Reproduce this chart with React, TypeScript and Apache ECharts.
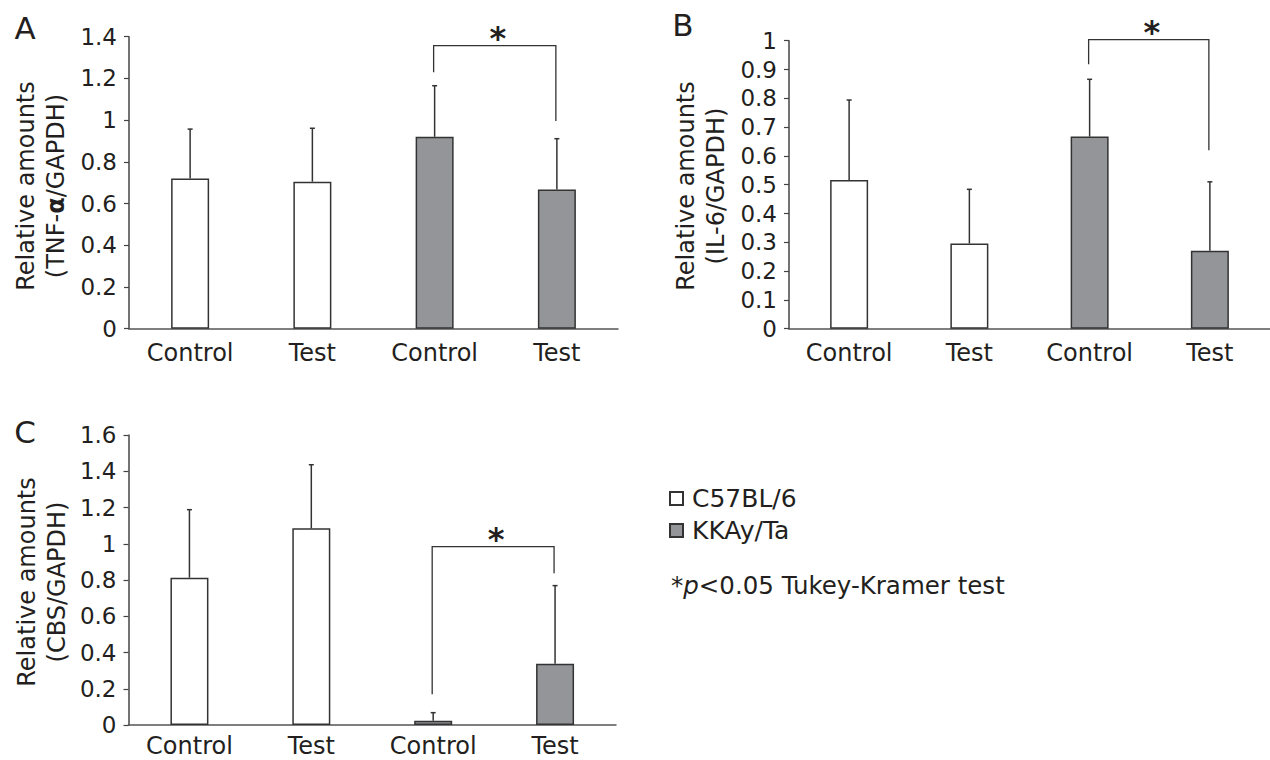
import React, { useEffect, useRef } from "react";
import * as echarts from "echarts";

const categories = ["Control", "Test", "Control", "Test"];
const groupNames = ["C57BL/6", "KKAy/Ta"];
const groupOfBar = [0, 0, 1, 1];

const tnfMeans = [0.72, 0.705, 0.92, 0.667];
const tnfSD = [0.237, 0.256, 0.245, 0.244];
const il6Means = [0.516, 0.296, 0.667, 0.271];
const il6SD = [0.278, 0.188, 0.199, 0.239];
const cbsMeans = [0.813, 1.085, 0.024, 0.338];
const cbsSD = [0.375, 0.351, 0.044, 0.431];

const tnfAxis = { max: 1.4, interval: 0.2 };
const il6Axis = { max: 1, interval: 0.1 };
const cbsAxis = { max: 1.6, interval: 0.2 };

// [fromCategory, toCategory, bracketTop, leftLegEnd, rightLegEnd]
const tnfBracket = [2, 3, 1.357, 1.229, 0.996];
const il6Bracket = [2, 3, 1.004, 0.918, 0.62];
const cbsBracket = [2, 3, 0.984, 0.169, 0.837];

const FONT = "DejaVu Sans";
const DARK = "#231f20";
const GRAY_FILL = "#939598";

const panels = [
  {
    letter: "A",
    means: tnfMeans,
    sd: tnfSD,
    axis: tnfAxis,
    bracket: tnfBracket,
    grid: { left: 129, top: 36.7, width: 489, height: 292 },
    title: "Relative amounts\n(TNF-{b|α}/GAPDH)",
    titlePos: [41, 186],
    letterPos: [25, 28],
    labelMargin: 12,
  },
  {
    letter: "B",
    means: il6Means,
    sd: il6SD,
    axis: il6Axis,
    bracket: il6Bracket,
    grid: { left: 789, top: 40.7, width: 488, height: 288 },
    title: "Relative amounts\n(IL-6/GAPDH)",
    titlePos: [701, 186],
    letterPos: [683, 25],
    labelMargin: 12,
  },
  {
    letter: "C",
    means: cbsMeans,
    sd: cbsSD,
    axis: cbsAxis,
    bracket: cbsBracket,
    grid: { left: 128.5, top: 435, width: 487.5, height: 290 },
    title: "Relative amounts\n(CBS/GAPDH)",
    titlePos: [42, 582],
    letterPos: [25, 432],
    labelMargin: 9,
  },
];

export default function App() {
  const ref = useRef<HTMLDivElement>(null);

  useEffect(() => {
    if (!ref.current) return;
    const chart = echarts.init(ref.current, undefined, { renderer: "svg" });

    const grids: any[] = [];
    const xAxes: any[] = [];
    const yAxes: any[] = [];
    const series: any[] = [];
    const graphics: any[] = [];

    panels.forEach((p, i) => {
      grids.push({ ...p.grid, containLabel: false });
      xAxes.push({
        gridIndex: i,
        type: "category",
        data: categories,
        axisLine: { show: true, lineStyle: { color: "#555", width: 1.5 } },
        axisTick: { show: false },
        axisLabel: {
          interval: 0,
          color: DARK,
          fontSize: 24,
          lineHeight: 24,
          fontFamily: FONT,
          margin: p.labelMargin,
        },
        splitLine: { show: false },
      });
      yAxes.push({
        gridIndex: i,
        type: "value",
        min: 0,
        max: p.axis.max,
        interval: p.axis.interval,
        axisLine: { show: true, lineStyle: { color: "#444", width: 1.5 } },
        axisTick: { show: true, length: 5, lineStyle: { color: "#444", width: 1.2 } },
        axisLabel: { color: DARK, fontSize: 23, fontFamily: FONT, margin: 12 },
        splitLine: { show: false },
      });

      groupNames.forEach((name, g) => {
        series.push({
          type: "bar",
          name,
          xAxisIndex: i,
          yAxisIndex: i,
          barWidth: 38,
          barGap: "-100%",
          data: p.means.map((v, k) => (groupOfBar[k] === g ? v : "-")),
          itemStyle: {
            color: g === 0 ? "#ffffff" : GRAY_FILL,
            borderColor: "#333",
            borderWidth: 1.5,
          },
          z: 2,
          silent: true,
        });
      });

      series.push({
        type: "custom",
        xAxisIndex: i,
        yAxisIndex: i,
        silent: true,
        clip: false,
        z: 3,
        encode: { x: 0, y: [1, 2] },
        data: p.means.map((m, k) => [k, m, m + p.sd[k]]),
        renderItem: (params: any, api: any) => {
          const p0 = api.coord([api.value(0), api.value(1)]);
          const p1 = api.coord([api.value(0), api.value(2)]);
          return {
            type: "group",
            children: [
              {
                type: "line",
                shape: { x1: p0[0], y1: p0[1], x2: p1[0], y2: p1[1] },
                style: { stroke: "#333", lineWidth: 1.5 },
              },
              {
                type: "line",
                shape: { x1: p1[0] - 2.5, y1: p1[1], x2: p1[0] + 2.5, y2: p1[1] },
                style: { stroke: "#333", lineWidth: 1.5 },
              },
            ],
          };
        },
      });

      series.push({
        type: "custom",
        xAxisIndex: i,
        yAxisIndex: i,
        silent: true,
        clip: false,
        z: 3,
        encode: { x: [0, 1], y: [2, 3, 4] },
        data: [p.bracket],
        renderItem: (params: any, api: any) => {
          const a = api.value(0);
          const b = api.value(1);
          const top = api.value(2);
          const lTop = api.coord([a, top]);
          const rTop = api.coord([b, top]);
          const lEnd = api.coord([a, api.value(3)]);
          const rEnd = api.coord([b, api.value(4)]);
          return {
            type: "group",
            children: [
              {
                type: "polyline",
                shape: {
                  points: [
                    [lEnd[0] - 1, lEnd[1]],
                    [lTop[0] - 1, lTop[1]],
                    [rTop[0] - 1, rTop[1]],
                    [rEnd[0] - 1, rEnd[1]],
                  ],
                },
                style: { stroke: "#333", lineWidth: 1.3, fill: null },
              },
              {
                type: "text",
                x: (lTop[0] + rTop[0]) / 2 + 2,
                y: lTop[1] - 8,
                style: {
                  text: "*",
                  fill: DARK,
                  font: `bold 32px '${FONT}'`,
                  textAlign: "center",
                  textVerticalAlign: "middle",
                },
              },
            ],
          };
        },
      });

      graphics.push({
        type: "text",
        x: p.titlePos[0],
        y: p.titlePos[1],
        rotation: Math.PI / 2,
        silent: true,
        style: {
          text: p.title,
          fill: DARK,
          font: `24px '${FONT}'`,
          lineHeight: 30,
          textAlign: "center",
          textVerticalAlign: "middle",
          rich: {
            b: { fontWeight: "bold", fontSize: 24, fontFamily: FONT, lineHeight: 30, fill: DARK },
          },
        },
      });
      graphics.push({
        type: "text",
        x: p.letterPos[0],
        y: p.letterPos[1],
        silent: true,
        style: {
          text: p.letter,
          fill: DARK,
          font: `31px '${FONT}'`,
          textAlign: "center",
          textVerticalAlign: "middle",
        },
      });
    });

    graphics.push({
      type: "text",
      x: 671,
      y: 585,
      silent: true,
      style: {
        text: "*{i|p}<0.05 Tukey-Kramer test",
        fill: DARK,
        font: `24.5px '${FONT}'`,
        textAlign: "left",
        textVerticalAlign: "middle",
        rich: {
          i: { fontStyle: "italic", fontSize: 24.5, fontFamily: FONT, fill: DARK },
        },
      },
    });

    chart.setOption({
      animation: false,
      backgroundColor: "#ffffff",
      textStyle: { fontFamily: FONT },
      grid: grids,
      xAxis: xAxes,
      yAxis: yAxes,
      legend: {
        data: groupNames,
        orient: "vertical",
        left: 669,
        top: 486,
        itemWidth: 13,
        itemHeight: 13,
        itemGap: 7,
        icon: "rect",
        selectedMode: false,
        padding: 0,
        textStyle: { color: DARK, fontSize: 25, fontFamily: FONT, padding: [0, 0, 0, 4] },
      },
      graphic: graphics,
      series,
    });

    return () => chart.dispose();
  }, []);

  return (
    <div
      ref={ref}
      style={{ position: "fixed", left: 0, top: 0, width: 1270, height: 760, background: "#fff" }}
    />
  );
}
